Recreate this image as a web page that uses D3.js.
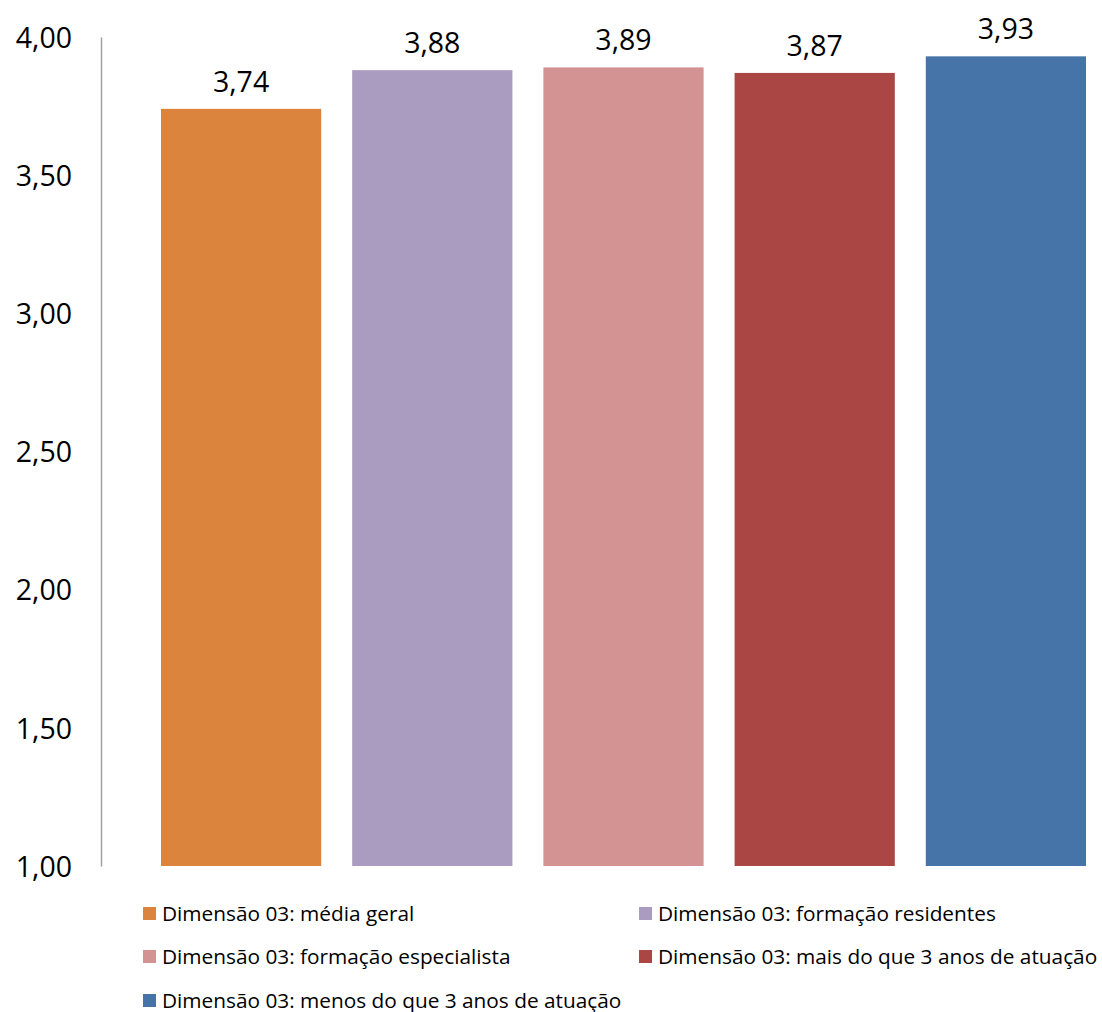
<!DOCTYPE html>
<html>
<head>
<meta charset="utf-8">
<script src="https://cdn.jsdelivr.net/npm/d3@7"></script>
<style>
  html, body { margin: 0; padding: 0; background: #fff; }
  svg { display: block; font-family: "Open Sans", "Noto Sans", sans-serif; }
</style>
</head>
<body>
<svg id="chart" width="1102" height="1012"></svg>
<script>
// Dimension 03 averages by group
const categories = [
  "Dimensão 03: média geral",
  "Dimensão 03: formação residentes",
  "Dimensão 03: formação especialista",
  "Dimensão 03: mais do que 3 anos de atuação",
  "Dimensão 03: menos do que 3 anos de atuação"
];
const values = [3.74, 3.88, 3.89, 3.87, 3.93];
const colors = ["#DB843D", "#AA9BC0", "#D39393", "#AA4644", "#4674A8"];
const yTicks = [1.0, 1.5, 2.0, 2.5, 3.0, 3.5, 4.0];

const svg = d3.select("#chart");
const fmt = v => d3.format(".2f")(v).replace(".", ",");

const y = d3.scaleLinear().domain([1, 4]).range([866, 37]);
const x = d3.scaleBand()
  .domain(categories)
  .range([145.5, 1101.5])
  .paddingInner(0.162)
  .paddingOuter(0.081);

// Vertical axis: line plus right-aligned tick labels, no tick marks
const axis = d3.axisLeft(y).tickValues(yTicks).tickFormat(fmt).tickSize(0).tickPadding(0);
const gAxis = svg.append("g").attr("transform", "translate(101,0)").call(axis);
gAxis.select(".domain").attr("stroke", "#a0a0a0").attr("stroke-width", 1.5);
gAxis.selectAll("text")
  .attr("x", -29)
  .attr("dy", "0.36em")
  .attr("font-size", 28.5)
  .attr("fill", "#000")
  .attr("font-family", "'Open Sans', 'Noto Sans', sans-serif");

// Bars
svg.append("g").selectAll("rect")
  .data(values)
  .join("rect")
  .attr("x", (d, i) => x(categories[i]))
  .attr("width", x.bandwidth())
  .attr("y", d => y(d))
  .attr("height", d => y(1) - y(d))
  .attr("fill", (d, i) => colors[i]);

// Value labels above bars
svg.append("g").selectAll("text")
  .data(values)
  .join("text")
  .attr("x", (d, i) => x(categories[i]) + x.bandwidth() / 2)
  .attr("y", d => y(d) - 17)
  .attr("text-anchor", "middle")
  .attr("font-size", 28.5)
  .attr("fill", "#000")
  .text(fmt);

// Legend: two columns, three rows
const legendPos = [
  [143, 907], [639, 907],
  [143, 950], [639, 950],
  [143, 994]
];
const lg = svg.append("g").selectAll("g")
  .data(categories)
  .join("g")
  .attr("transform", (d, i) => `translate(${legendPos[i][0]},${legendPos[i][1]})`);
lg.append("rect")
  .attr("width", 13).attr("height", 13)
  .attr("fill", (d, i) => colors[i]);
lg.append("text")
  .attr("x", 19)
  .attr("y", 13.5)
  .attr("font-size", 20.8)
  .attr("fill", "#000")
  .text(d => d);
</script>
</body>
</html>
